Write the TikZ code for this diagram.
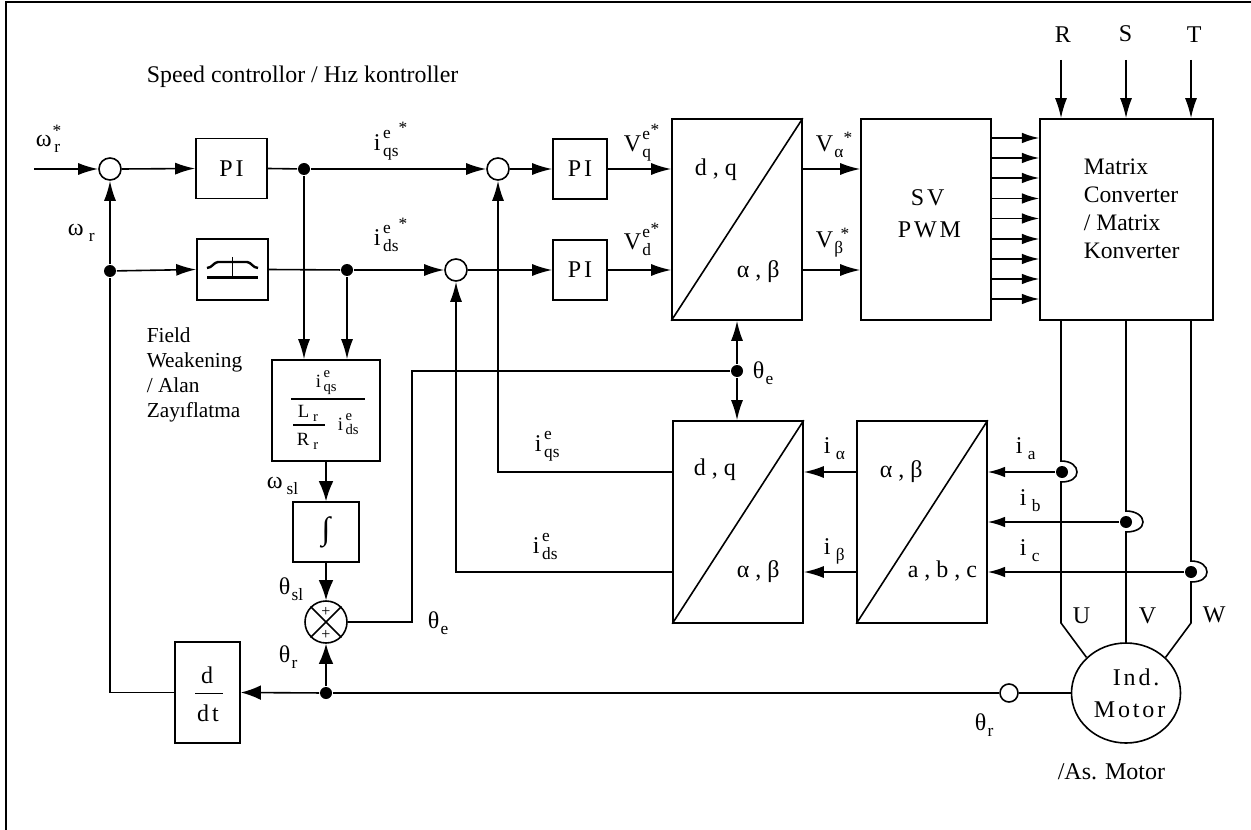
\documentclass[tikz,border=0pt]{standalone}
\usepackage{fontspec}
\setmainfont{Liberation Serif}
\newfontfamily\wide[LetterSpace=12]{Liberation Serif}
\usetikzlibrary{arrows.meta,shapes.geometric}
\def\px{0.75pt}
\def\subsize{\fontsize{13}{15}\selectfont}
\newcommand{\lbl}[4][2pt]{#2\hspace{#1}\rlap{\raisebox{.5em}{\subsize #3}}\raisebox{-.25em}{\subsize #4}}

\begin{document}
\begin{tikzpicture}[x=0.75pt,y=-0.75pt,line width=1.2pt,font=\fontsize{18}{22}\selectfont]
    \tikzstyle{block} = [rectangle, draw, inner sep=0pt]
    \tikzstyle{sumpt} = [circle, draw, inner sep=0pt, minimum size=22*\px]
    \tikzstyle{junct} = [circle, fill=black, inner sep=0pt, minimum size=12*\px]
    \tikzstyle{lab} = [inner sep=0pt, anchor=base west]
    \tikzstyle{smalllab} = [lab, font=\fontsize{14}{17}\selectfont\def\subsize{\fontsize{11}{13}\selectfont}]
    \tikzstyle{starmark} = [inner sep=0pt, anchor=base, font=\fontsize{13}{15}\selectfont]
    \tikzstyle{sig} = [-{Latex[length=15pt,width=9pt]}]
    \tikzstyle{bigsig} = [-{Latex[length=15pt,width=11pt]}]
    \tikzstyle{smallsig} = [-{Latex[length=13pt,width=8pt]}]
    \useasboundingbox (0,0) rectangle (1251,830);

    % Frame
    \draw[line width=1.6pt] (6,830) -- (6,2) -- (1251,2);

    % Speed and current loop
    \node[sumpt] (sumw) at (110,169) {};
    \node[block, minimum width=71*\px, minimum height=60*\px] (piw) at (231.5,168.5) {\wide PI};
    \node[block, minimum width=71*\px, minimum height=61*\px] (limit) at (232.5,269.5) {};
    \node[sumpt] (sumq) at (498,169) {};
    \node[sumpt] (sumd) at (456,270) {};
    \node[block, minimum width=54*\px, minimum height=60*\px] (piq) at (580,169) {\wide PI};
    \node[block, minimum width=54*\px, minimum height=60*\px] (pid) at (580,270) {\wide PI};
    \node[block, minimum width=130*\px, minimum height=201*\px] (dq) at (737,219.5) {};
    \node[block, minimum width=130*\px, minimum height=201*\px] (svm) at (926,219.5) {};
    \node[block, minimum width=173*\px, minimum height=201*\px] (mc) at (1126.5,219.5) {};
    \node[block, minimum width=108*\px, minimum height=101*\px] (fw) at (326,410.5) {};
    \node[block, minimum width=66*\px, minimum height=60*\px, font=\fontsize{24}{26}\selectfont] (intg) at (326,532) {∫};
    \node[circle, draw, inner sep=0pt, minimum size=42*\px] (adder) at (326,622) {};
    \node[block, minimum width=65*\px, minimum height=101*\px] (ddt) at (207.5,692.5) {};
    \node[block, minimum width=130*\px, minimum height=202*\px] (dqi) at (738,522) {};
    \node[block, minimum width=130*\px, minimum height=202*\px] (abc) at (922,522) {};
    \node[ellipse, draw, inner sep=0pt, minimum width=109*\px, minimum height=100*\px] (motor) at (1126,693) {};
    \node[sumpt, minimum size=18*\px] (sense) at (1009,693) {};

    % Junctions
    \node[junct] (dotwr) at (110,271) {};
    \node[junct] (dotqs) at (304,169) {};
    \node[junct] (dotds) at (347,270) {};
    \node[junct] (dotth) at (737,371) {};
    \node[junct] (dotr) at (326,693) {};
    \node[junct] (dota) at (1062,472) {};
    \node[junct] (dotb) at (1126,522) {};
    \node[junct] (dotc) at (1191,572) {};
    \coordinate (start) at (34,169);
    \coordinate (bend) at (412,371);

    % Diagonals and limiter symbol
    \draw (dq.south west) -- (dq.north east);
    \draw (dqi.south west) -- (dqi.north east);
    \draw (abc.south west) -- (abc.north east);
    \draw[line width=1.8pt] (207,268) .. controls (212,268) and (214,262) .. (218,262) -- (247,262) .. controls (251,262) and (253,268) .. (258,268);
    \draw[line width=1.8pt] (207,277.5) -- (258,277.5);
    \draw (232.5,257) -- (232.5,277.5);

    % Forward path
    \draw[sig] (start) -- (sumw.west);
    \draw[sig] (sumw.east) -- (piw.west);
    \draw (piw.east) -- (dotqs);
    \draw[sig] (dotqs) -- (sumq.west);
    \draw[sig] (dotwr) -- (limit.west);
    \draw (limit.east) -- (dotds);
    \draw[sig] (dotds) -- (sumd.west);
    \draw[sig] (sumq.east) -- (piq.west);
    \draw[sig] (sumd.east) -- (pid.west);
    \draw[sig] (piq.east) -- (piq.east -| dq.west);
    \draw[sig] (pid.east) -- (pid.east -| dq.west);
    \draw[sig] (piq.east -| dq.east) -- (piq.east -| svm.west);
    \draw[sig] (pid.east -| dq.east) -- (pid.east -| svm.west);
    \foreach \y in {138,158,178,198.5,218.5,239,259,279,299} {
        \draw[smallsig] (svm.east |- 0,\y) -- (mc.west |- 0,\y);
    }
    \foreach \x in {1061,1126,1191} {
        \coordinate (line\x) at (\x,60);
        \draw[sig] (line\x) -- (line\x |- mc.north);
    }

    % Slip path
    \draw[sig] (dotqs) -- (dotqs |- fw.north);
    \draw[sig] (dotds) -- (dotds |- fw.north);
    \draw[bigsig] (fw.south) -- (intg.north);
    \draw[bigsig] (intg.south) -- (adder.north);
    \draw[bigsig] (dotr) -- (adder.south);
    \draw (adder.45) -- (adder.225);
    \draw (adder.135) -- (adder.315);
    \draw (adder.east) -| (bend) -- (dotth);
    \draw[sig] (dotth) -- (dq.south);
    \draw[sig] (dotth) -- (dqi.north -| dotth);

    % Feedback
    \draw[sig] (dqi.west |- 0,472) -| (sumq.south);
    \draw[sig] (dqi.west |- 0,572) -| (sumd.south);
    \draw[sig] (abc.west |- 0,472) -- (dqi.east |- 0,472);
    \draw[sig] (abc.west |- 0,572) -- (dqi.east |- 0,572);
    \draw[smallsig] (dota) -- (dota -| abc.east);
    \draw[smallsig] (dotb) -- (dotb -| abc.east);
    \draw[smallsig] (dotc) -- (dotc -| abc.east);
    \draw (motor.west) -- (sense.east);
    \draw (sense.west) -- (dotr);
    \draw[bigsig] (dotr) -- (ddt.east);
    \draw (ddt.west) -| (dotwr);
    \draw[sig] (dotwr) -- (sumw.south);

    % Motor phases
    \draw (1061,320) -- (1061,461) .. controls (1071,461) and (1077,466) .. (1077,472) .. controls (1077,478) and (1071,482) .. (1061,482) -- (1061,623) -- (motor.138);
    \draw (1126,320) -- (1126,511) .. controls (1136,511) and (1143,516) .. (1143,522) .. controls (1143,528) and (1136,532) .. (1126,532) -- (motor.north);
    \draw (1191,320) -- (1191,561) .. controls (1201,561) and (1207,566) .. (1207,572) .. controls (1207,578) and (1201,582) .. (1191,582) -- (1191,623) -- (motor.42);

    % Block texts
    \node[lab] (dqa) at (694,176) {d , q};
    \node[lab] (dqb) at (736,277) {α , β};
    \node[lab] (dqic) at (693,475) {d , q};
    \node[lab] (dqid) at (736,577) {α , β};
    \node[lab] (abca) at (879,477) {α , β};
    \node[lab] (abcb) at (907,577) {a , b , c};
    \node[lab] (sv) at (910,206) {\wide SV};
    \node[lab] (pwm) at (897,238) {\wide PWM};
    \node[lab, align=left, anchor=west, font=\fontsize{17.7}{21}\selectfont] (mctext) at (1083,209) {Matrix\\Converter\\/ Matrix\\Konverter};
    \node[lab] (ind) at (1112,685) {\wide Ind.};
    \node[lab] (mot) at (1093,717) {\wide Motor};
    \node[lab] (asm) at (1057,779) {/As. Motor};
    \node[lab, font=\fontsize{17.9}{21}\selectfont] (title) at (146,83) {Speed controllor / Hız kontroller};
    \node[lab, align=left, anchor=west, font=\fontsize{16}{18.75}\selectfont] (fwtext) at (146,375) {Field\\Weakening\\/ Alan\\Zayıflatma};

    % Fractions
    \node[lab, anchor=base] (dnum) at (207,683) {d};
    \draw[line width=0.9pt] (195,693.5) -- (223,693.5);
    \node[lab, anchor=base] (ddenom) at (208,721) {\wide dt};
    \node[smalllab] (fwq) at (315,387) {\lbl{i}{e}{qs}};
    \draw (291,399) -- (365,399);
    \node[smalllab] (fwl) at (297,417) {\lbl[3pt]{L}{}{r}};
    \draw[line width=0.8pt] (293,425) -- (324.5,425);
    \node[smalllab] (fwr) at (296,445) {\lbl[3pt]{R}{}{r}};
    \node[smalllab] (fwd) at (337,430) {\lbl{i}{e}{ds}};

    % Signal labels
    \node[lab] (lwref) at (35,147) {\lbl{ω}{}{r}};
    \node[lab] (lw) at (67,236) {\lbl[4pt]{ω}{}{r}};
    \node[lab] (liqref) at (373,151) {\lbl{i}{e}{qs}};
    \node[lab] (lidref) at (373,246) {\lbl{i}{e}{ds}};
    \node[lab] (lvq) at (623,152) {\lbl[1pt]{V}{e}{q}};
    \node[lab] (lvd) at (623,250) {\lbl[1pt]{V}{e}{d}};
    \node[lab] (lva) at (815,152) {\lbl[1pt]{V}{}{α}};
    \node[lab] (lvb) at (815,248) {\lbl[1pt]{V}{}{β}};
    \node[lab] (lthe) at (752,378) {\lbl[1pt]{θ}{}{e}};
    \node[lab] (liq) at (534,451) {\lbl{i}{e}{qs}};
    \node[lab] (lid) at (532,553) {\lbl{i}{e}{ds}};
    \node[lab] (lia) at (823,453) {\lbl[4pt]{i}{}{α}};
    \node[lab] (lib) at (823,554) {\lbl[4pt]{i}{}{β}};
    \node[lab] (lsa) at (1015,453) {\lbl[4pt]{i}{}{a}};
    \node[lab] (lsb) at (1019,505) {\lbl[4pt]{i}{}{b}};
    \node[lab] (lsc) at (1019,555) {\lbl[4pt]{i}{}{c}};
    \node[lab] (lu) at (1072,623) {U};
    \node[lab] (lv) at (1138,623) {V};
    \node[lab] (lw2) at (1202,622) {W};
    \node[lab] (lr) at (1054,43) {R};
    \node[lab] (ls) at (1118,42) {S};
    \node[lab] (lt) at (1186,43) {T};
    \node[lab] (lthr) at (974,730) {\lbl[1pt]{θ}{}{r}};
    \node[lab] (lwsl) at (266,488) {\lbl[3pt]{ω}{}{sl}};
    \node[lab] (ltsl) at (278,594) {\lbl[1pt]{θ}{}{sl}};
    \node[lab] (ltr) at (278,662) {\lbl[1pt]{θ}{}{r}};
    \node[lab] (lte) at (427,628) {\lbl[1pt]{θ}{}{e}};

    % Stars and adder signs
    \foreach \n/\x/\y in {a/57/137, b/403/134, c/403/230, d/655/136, e/655/235, f/848/144, g/845/240} {
        \node[starmark] (star\n) at (\x,\y) {*};
    }
    \node[inner sep=0pt, font=\fontsize{12}{14}\selectfont] (plusa) at (326,612) {+};
    \node[inner sep=0pt, font=\fontsize{12}{14}\selectfont] (plusb) at (326,635) {+};
\end{tikzpicture}
\end{document}
